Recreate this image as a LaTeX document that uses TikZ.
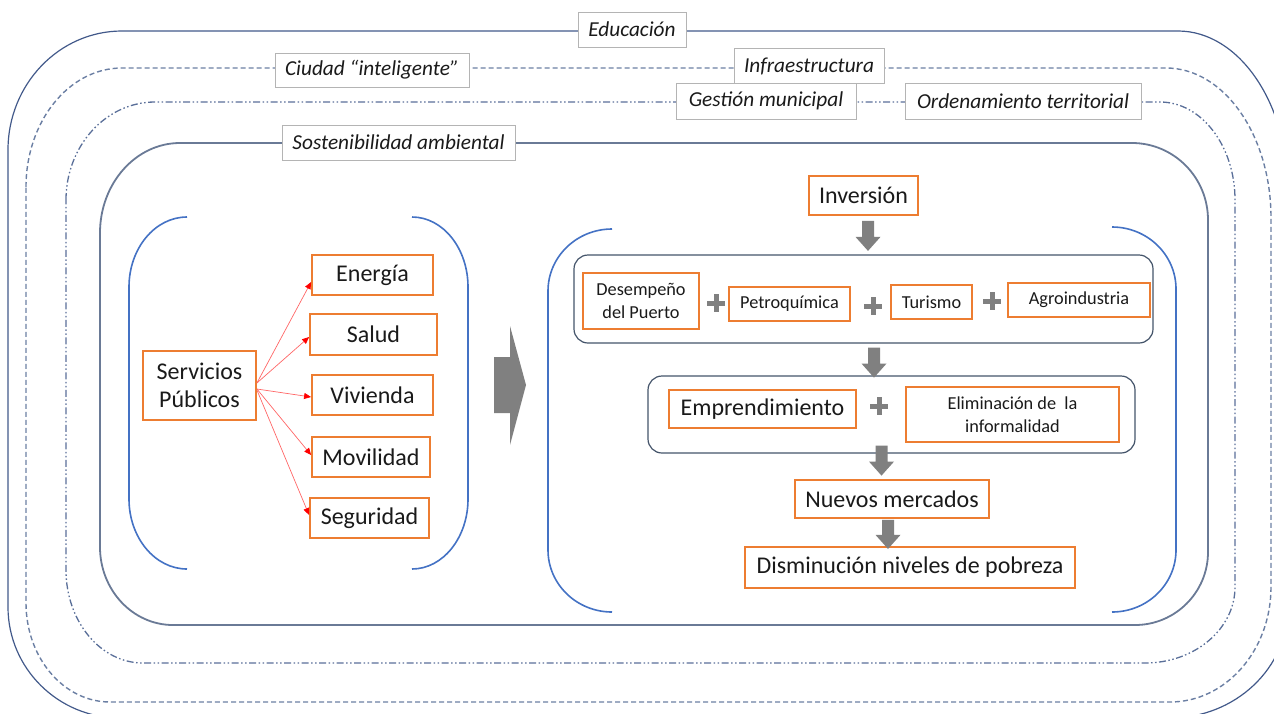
\documentclass[tikz,border=0pt]{standalone}
\usepackage{fontspec}
\setmainfont{Carlito}
\usetikzlibrary{arrows.meta,calc}
\definecolor{orangeb}{HTML}{ED7D31}
\definecolor{outerc}{HTML}{42598A}
\definecolor{dashc}{HTML}{6B7FA3}
\definecolor{dotc}{HTML}{5A6F99}
\definecolor{sostc}{HTML}{6A7A96}
\definecolor{brackc}{HTML}{4472C4}
\definecolor{groupc}{HTML}{44546A}
\definecolor{greyarr}{HTML}{808080}
\definecolor{labc}{HTML}{B4B4B4}
\definecolor{txt}{HTML}{1A1A1A}
\newcommand{\bigf}{\fontsize{24}{28}\selectfont}
\newcommand{\smallf}{\fontsize{18.3}{22.5}\selectfont}
\newcommand{\labf}{\fontsize{21.3}{24}\selectfont\itshape}
\newcommand{\blockdown}[2]{\fill[greyarr] (#1) ++(-6,0) -- ++(12,0) -- ++(0,#2-14) -- ++(6.5,0) -- ++(-12.5,14) -- ++(-12.5,-14) -- ++(6.5,0) -- cycle;}
\newcommand{\plussign}[1]{\draw[greyarr, line width=5pt] (#1) ++(-9,0) -- ++(18,0) (#1) ++(0,-9) -- ++(0,18);}
\begin{document}
\begin{tikzpicture}[x=1pt,y=-1pt,
  obox/.style={draw=orangeb, line width=1.8pt, fill=white, inner sep=0pt, text=txt, align=center},
  bignode/.style={obox, font=\bigf},
  smallnode/.style={obox, font=\smallf},
  lab/.style={draw=labc, line width=0.8pt, fill=white, inner sep=0pt, text=txt, font=\labf},
  groupbox/.style={draw=groupc, line width=1.2pt, rounded corners=14pt, inner sep=0pt},
  brack/.style={draw=brackc, line width=1.6pt},
  redarr/.style={draw=red!60, line width=0.7pt, -{Triangle[length=7pt,width=6pt,red]}},
  outerline/.style={draw=outerc, line width=1.2pt},
  dashline/.style={draw=dashc, line width=1.4pt, dash pattern=on 5pt off 3pt},
  dotline/.style={draw=dotc, line width=1.3pt, dash pattern=on 7pt off 2.5pt on 1.5pt off 2.5pt on 1.5pt off 2.5pt},
  sostline/.style={draw=sostc, line width=1.8pt}]
\useasboundingbox (0,0) rectangle (1274,713);
% outer solid (Educacion)
\path[outerline] (8,150) .. controls +(0,-.552*119) and +(-.552*114,0) .. (122,31) -- (1178,31)
  .. controls +(.552*110,0) and +(0,-.552*160) .. (1288,191) -- (1288,607)
  .. controls +(0,.552*111) and +(.552*118,0) .. (1170,718) -- (120,718)
  .. controls +(-.552*112,0) and +(0,.552*111) .. (8,607) -- cycle;
% dashed (Ciudad / Infraestructura)
\path[dashline] (26,187) .. controls +(0,-.552*119) and +(-.552*96,0) .. (122,68) -- (1166,68)
  .. controls +(.552*105,0) and +(0,-.552*150) .. (1271,218) -- (1271,587)
  .. controls +(0,.552*115) and +(.552*101,0) .. (1170,702) -- (110,702)
  .. controls +(-.552*84,0) and +(0,.552*99) .. (26,603) -- cycle;
% dash-dot (Gestion / Ordenamiento)
\path[dotline] (66,200) .. controls +(0,-.552*98) and +(-.552*89,0) .. (155,102) -- (1160,102)
  .. controls +(.552*75,0) and +(0,-.552*98) .. (1235,200) -- (1235,587)
  .. controls +(0,.552*76) and +(.552*90,0) .. (1145,663) -- (143,663)
  .. controls +(-.552*77,0) and +(0,.552*93) .. (66,570) -- cycle;
% sostenibilidad solid
\path[sostline] (100,233) .. controls +(0,-.552*90) and +(-.552*80,0) .. (180,143) -- (1132,143)
  .. controls +(.552*76,0) and +(0,-.552*77) .. (1208,220) -- (1208,552)
  .. controls +(0,.552*73) and +(.552*73,0) .. (1135,625) -- (173,625)
  .. controls +(-.552*73,0) and +(0,.552*78) .. (100,547) -- cycle;
% border labels
\node[lab, minimum width=108pt, minimum height=35pt] (edu) at (632,29.5) {Educación};
\node[lab, minimum width=194pt, minimum height=34pt] (ciu) at (372,70) {Ciudad “inteligente”};
\node[lab, minimum width=150pt, minimum height=35pt] (inf) at (809,66) {Infraestructura};
\node[lab, minimum width=180pt, minimum height=36pt] (ges) at (766,101) {Gestión municipal};
\node[lab, minimum width=236pt, minimum height=36pt] (ord) at (1023,101) {Ordenamiento territorial};
\node[lab, minimum width=233pt, minimum height=35pt] (sos) at (398.5,142.5) {Sostenibilidad ambiental};
% left group brackets
\path[brack] (187,217) .. controls +(-.552*58,0) and +(0,-.552*70) .. (129,287) -- (129,499) .. controls +(0,.552*70) and +(-.552*58,0) .. (187,569);
\path[brack] (412,217) .. controls +(.552*56,0) and +(0,-.552*70) .. (468,287) -- (468,499) .. controls +(0,.552*70) and +(.552*56,0) .. (412,569);
% right group brackets
\path[brack] (612,229) .. controls +(-.552*64,0) and +(0,-.552*62) .. (548,291) -- (548,550) .. controls +(0,.552*62) and +(-.552*64,0) .. (612,612);
\path[brack] (1112,227) .. controls +(.552*64,0) and +(0,-.552*62) .. (1176,289) -- (1176,550) .. controls +(0,.552*62) and +(.552*64,0) .. (1112,612);
% left nodes
\node[bignode, minimum width=113pt, minimum height=69pt] (sp) at (199.5,385.5) {Servicios\\Públicos};
\node[bignode, minimum width=121pt, minimum height=40pt] (en) at (372.5,275) {Energía};
\node[bignode, minimum width=127pt, minimum height=41pt] (sa) at (373.5,334.5) {Salud};
\node[bignode, minimum width=121pt, minimum height=40pt] (vi) at (372.5,395) {Vivienda};
\node[bignode, minimum width=118pt, minimum height=40pt] (mo) at (371,457) {Movilidad};
\node[bignode, minimum width=119pt, minimum height=40pt] (se) at (369.5,518) {Seguridad};
\draw[redarr] ($(sp.east)+(0,-2.5)$) -- ($(en.west)+(0,7)$);
\draw[redarr] ($(sp.east)+(0,-2.5)$) -- ($(sa.west)+(0,2.5)$);
\draw[redarr] ($(sp.east)+(0,3.5)$) -- ($(vi.west)+(0,2)$);
\draw[redarr] ($(sp.east)+(0,3.5)$) -- ($(mo.west)+(0,-2)$);
\draw[redarr] ($(sp.east)+(0,4.5)$) -- ($(se.west)+(0,-3)$);
% big right arrow
\fill[greyarr] (494,357) -- (510,357) -- (510,326) -- (526,385) -- (510,445) -- (510,413) -- (494,413) -- cycle;
% right group
\node[bignode, minimum width=109pt, minimum height=39pt] (inv) at (863.5,195.5) {Inversión};
\node[groupbox, minimum width=579pt, minimum height=88pt] (g1) at (863.5,299) {};
\node[groupbox, minimum width=487pt, minimum height=77pt] (g2) at (891.5,414.5) {};
\node[smallnode, minimum width=116pt, minimum height=56pt] (dp) at (641,301) {Desempeño\\del Puerto};
\node[smallnode, minimum width=121pt, minimum height=34pt] (pq) at (789.5,304) {Petroquímica};
\node[smallnode, minimum width=81pt, minimum height=34pt] (tu) at (931.5,302) {Turismo};
\node[smallnode, minimum width=142pt, minimum height=34pt] (ag) at (1079,300) {Agroindustria};
\node[bignode, minimum width=187pt, minimum height=38pt] (em) at (762.5,409) {Emprendimiento};
\node[smallnode, minimum width=213pt, minimum height=55pt] (el) at (1012.5,414.5) {Eliminación de\ \ la\\informalidad};
\node[bignode, minimum width=194pt, minimum height=38pt] (nm) at (892,499) {Nuevos mercados};
\node[bignode, minimum width=330pt, minimum height=41pt] (dis) at (910,567.5) {Disminución niveles de pobreza};
\plussign{716,303}
\plussign{873,306}
\plussign{992,301}
\plussign{879,406}
\blockdown{$(inv.south)+(4.5,5)$}{30}
\blockdown{$(g1.south)+(10.5,4)$}{30}
\blockdown{$(g2.south)+(-10,-8)$}{30}
\blockdown{$(nm.south)+(-4,1)$}{29}
\end{tikzpicture}
\end{document}
